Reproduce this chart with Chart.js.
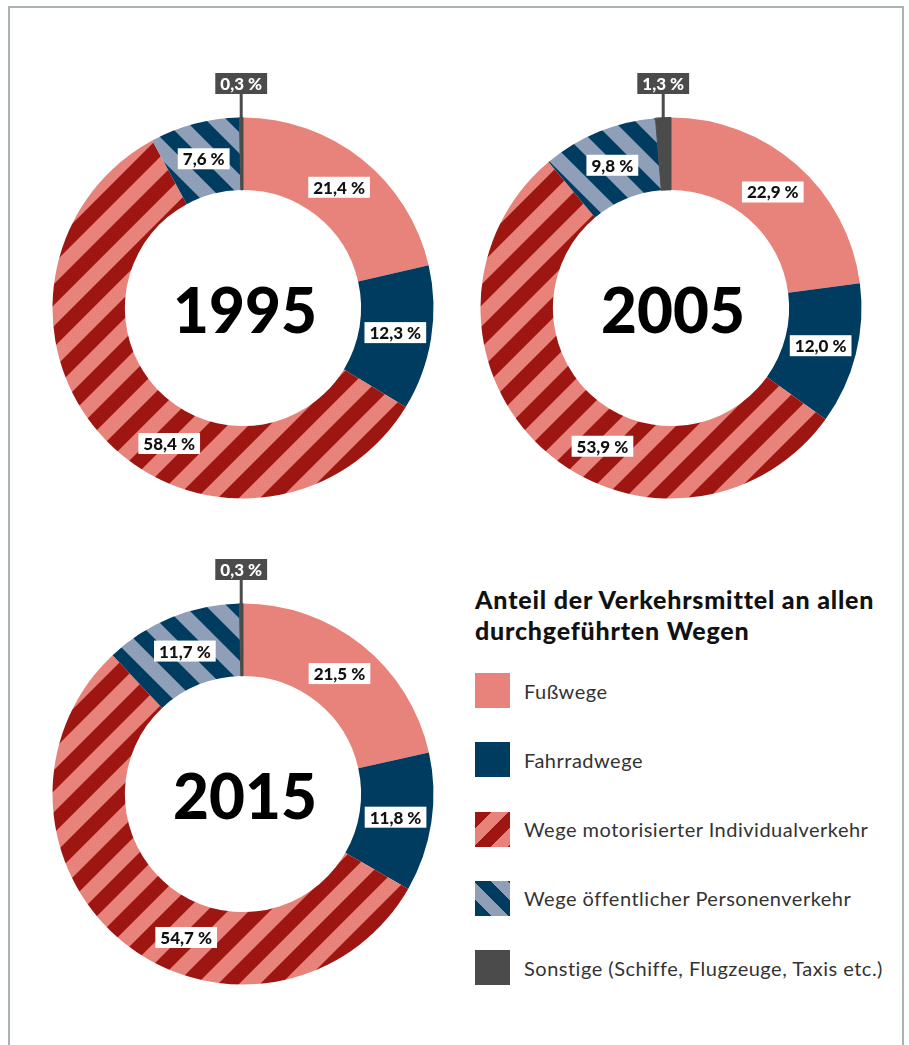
<!DOCTYPE html>
<html lang="de">
<head>
<meta charset="utf-8">
<script src="https://cdn.jsdelivr.net/npm/chart.js@4.4.1/dist/chart.umd.min.js"></script>
<style>
  body { margin: 0; width: 909px; height: 1045px; background: #fff; position: relative; overflow: hidden; font-family: Lato, sans-serif; }
  .frame { position: absolute; left: 8px; top: 6px; width: 892px; height: 1100px; border: 2px solid #aab2b7; }
  canvas.donut { position: absolute; }
  .legend-title { position: absolute; left: 475px; top: 584px; font-weight: 900; font-size: 25px; letter-spacing: 0.8px; line-height: 31px; color: #111; }
  .legend-row { position: absolute; left: 475px; height: 35px; display: flex; align-items: center; }
  .sw { width: 35px; height: 35px; margin-right: 14px; flex: none; }
  .legend-row span { font-size: 20px; letter-spacing: 0.5px; color: #333; }
</style>
</head>
<body>
<div class="frame"></div>
<canvas id="c1995" class="donut" width="440" height="490" style="left:23px;top:63px"></canvas>
<canvas id="c2005" class="donut" width="440" height="490" style="left:451px;top:63px"></canvas>
<canvas id="c2015" class="donut" width="440" height="490" style="left:23px;top:549px"></canvas>
<div class="legend-title">Anteil der Verkehrsmittel an allen<br>durchgeführten Wegen</div>
<div id="legend"></div>
<script>
const categories = [
  "Fußwege",
  "Fahrradwege",
  "Wege motorisierter Individualverkehr",
  "Wege öffentlicher Personenverkehr",
  "Sonstige (Schiffe, Flugzeuge, Taxis etc.)",
];
const years = ["1995", "2005", "2015"];
const values1995 = [21.4, 12.3, 58.4, 7.6, 0.3];
const values2005 = [22.9, 12.0, 53.9, 9.8, 1.3];
const values2015 = [21.5, 11.8, 54.7, 11.7, 0.3];

const pink = "#e8837b";
const darkRed = "#9d1611";
const navy = "#003c5f";
const greyBlue = "#8f9fb8";
const other = "#4b4b4b";

const fmt = (v) => v.toFixed(1).replace(".", ",") + " %";

// diagonal stripes, dir 1 = "/", dir -1 = "\"
const stripes = (bg, fg, dir) => {
  const s = 42;
  const c = document.createElement("canvas");
  c.width = s;
  c.height = s;
  const g = c.getContext("2d");
  g.fillStyle = bg;
  g.fillRect(0, 0, s, s);
  if (dir < 0) {
    g.translate(s, 0);
    g.scale(-1, 1);
  }
  g.fillStyle = fg;
  g.beginPath();
  g.moveTo(0, 0); g.lineTo(s / 2, 0); g.lineTo(0, s / 2); g.closePath();
  g.moveTo(s, 0); g.lineTo(s, s / 2); g.lineTo(s / 2, s); g.lineTo(0, s); g.closePath();
  g.fill();
  return g.createPattern(c, "repeat");
};

const fills = [pink, navy, stripes(pink, darkRed, 1), stripes(greyBlue, navy, -1), other];

const donutLabels = {
  id: "donutLabels",
  afterDatasetsDraw(chart, args, opts) {
    const ctx = chart.ctx;
    const arcs = chart.getDatasetMeta(0).data;
    const vals = chart.data.datasets[0].data;
    ctx.save();
    ctx.font = "900 17px Lato";
    ctx.textAlign = "center";
    ctx.textBaseline = "middle";
    let cx = 0, cy = 0;
    arcs.forEach((arc, i) => {
      const { x, y, startAngle, endAngle, innerRadius, outerRadius } = arc.getProps(
        ["x", "y", "startAngle", "endAngle", "innerRadius", "outerRadius"], true);
      cx = x; cy = y;
      const txt = fmt(vals[i]);
      const w = ctx.measureText(txt).width + 10;
      const h = 21;
      if (i === opts.callout) {
        const a = (startAngle + endAngle) / 2;
        const px = x + Math.cos(a) * outerRadius;
        const py = y + Math.sin(a) * outerRadius;
        const by = y - outerRadius - 34;
        ctx.strokeStyle = other;
        ctx.lineWidth = 3;
        ctx.beginPath();
        ctx.moveTo(px, py + 3);
        ctx.lineTo(px, by);
        ctx.stroke();
        ctx.fillStyle = other;
        ctx.fillRect(px - w / 2, by - h / 2, w, h);
        ctx.fillStyle = "#fff";
        ctx.fillText(txt, px, by + 1);
      } else {
        const a = startAngle + (endAngle - startAngle) * opts.at[i];
        const r = (innerRadius + outerRadius) / 2;
        const lx = x + Math.cos(a) * r;
        const ly = y + Math.sin(a) * r;
        ctx.fillStyle = "#fff";
        ctx.fillRect(lx - w / 2, ly - h / 2, w, h);
        ctx.fillStyle = "#111";
        ctx.fillText(txt, lx, ly + 1);
      }
    });
    // Jahr in der Mitte
    ctx.font = "900 62px Lato";
    ctx.fillStyle = "#000";
    ctx.textBaseline = "alphabetic";
    ctx.fillText(opts.year, cx + 2, cy + 25);
    ctx.restore();
  },
};

const drawDonut = (id, values, year) => {
  const ctx = document.getElementById(id).getContext("2d");
  new Chart(ctx, {
    type: "doughnut",
    data: {
      labels: categories,
      datasets: [
        {
          data: values,
          backgroundColor: fills,
          borderWidth: [0, 0, 0, 0, 1],
          hoverBorderWidth: [0, 0, 0, 0, 1],
          borderColor: other,
          hoverOffset: 0,
        },
      ],
    },
    options: {
      responsive: false,
      animation: false,
      devicePixelRatio: 1,
      events: [],
      cutout: "62%",
      layout: { padding: { left: 29, right: 29, top: 54, bottom: 54 } },
      plugins: {
        legend: { display: false },
        tooltip: { enabled: false },
        donutLabels: { year: year, callout: 4, at: [0.5, 0.5, 0.415, 0.5] },
      },
    },
    plugins: [donutLabels],
  });
};

drawDonut("c1995", values1995, years[0]);
drawDonut("c2005", values2005, years[1]);
drawDonut("c2015", values2015, years[2]);

// Legende
const swatchCss = [
  `background:${pink}`,
  `background:${navy}`,
  `background:repeating-linear-gradient(135deg, ${darkRed} 0 12px, ${pink} 12px 24px)`,
  `background:repeating-linear-gradient(45deg, ${navy} 0 12px, ${greyBlue} 12px 24px)`,
  `background:${other}`,
];
const legend = document.getElementById("legend");
categories.forEach((name, i) => {
  const row = document.createElement("div");
  row.className = "legend-row";
  row.style.top = (673 + i * 69.3) + "px";
  row.innerHTML = `<div class="sw" style="${swatchCss[i]}"></div><span>${name}</span>`;
  legend.appendChild(row);
});
</script>
</body>
</html>
